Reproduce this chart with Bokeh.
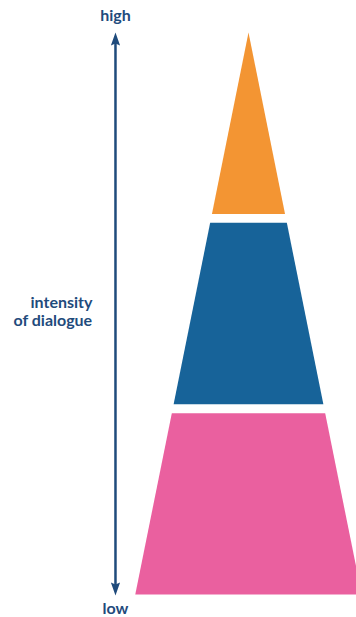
from bokeh.plotting import figure
from bokeh.models import Range1d
from bokeh.core.properties import value
from bokeh.embed import file_html
from bokeh.resources import INLINE

# ---- data (chart units: one tier = 1 unit of "intensity") ----
tier_names = ["low", "medium", "high"]
tier_start = [0.0, 1.0, 2.0]
tier_end = [0.953, 1.953, 2.953]
tier_colors = ["#EA609F", "#176399", "#F39533"]
apex = 2.953
base_halfwidth = 0.595

axis_x = -0.699
axis_low = -0.005
axis_high = 2.953
axis_labels = ["high", "low"]
axis_label_y = [3.048, -0.068]
side_lines = ["intensity", "of dialogue"]
side_y = [1.54, 1.445]
side_x = -0.82

NAVY = "#1f4b7c"
PX = 190.3  # pixels per chart unit

def hw(y):
    return base_halfwidth * (apex - y) / apex

xs, ys = [], []
for y0, y1 in zip(tier_start, tier_end):
    h0, h1 = hw(y0), hw(y1)
    if h1 < 1e-6:
        xs.append([-h0, h0, 0.0]); ys.append([y0, y0, y1])
    else:
        xs.append([-h0, h0, h1, -h1]); ys.append([y0, y0, y1, y1])

W, H = 356, 617
p = figure(width=W, height=H, output_backend="svg", toolbar_location=None,
           x_range=Range1d(-248 / PX, (W - 248) / PX),
           y_range=Range1d((594 - H) / PX, 594 / PX),
           min_border=0, outline_line_color=None)
p.axis.visible = False
p.grid.visible = False
p.background_fill_color = "white"
p.border_fill_color = "white"

p.patches(xs=xs, ys=ys, fill_color=tier_colors, line_color=None)

# axis arrow
p.segment(x0=[axis_x], y0=[axis_low + 10 / PX], x1=[axis_x], y1=[axis_high - 10 / PX],
          line_color=NAVY, line_width=2.5)
hl, hwid, notch = 13 / PX, 4.6 / PX, 2 / PX
head_xs = [[axis_x, axis_x + hwid, axis_x, axis_x - hwid],
           [axis_x, axis_x + hwid, axis_x, axis_x - hwid]]
head_ys = [[axis_high, axis_high - hl, axis_high - hl + notch, axis_high - hl],
           [axis_low, axis_low + hl, axis_low + hl - notch, axis_low + hl]]
p.patches(xs=head_xs, ys=head_ys, fill_color=NAVY, line_color=None)

p.text(x=[axis_x, axis_x], y=axis_label_y, text=axis_labels,
       text_font=value("Lato"), text_font_style="bold", text_font_size="16px",
       text_color=NAVY, text_align="center", text_baseline="middle")
p.text(x=[side_x, side_x], y=side_y, text=side_lines,
       text_font=value("Lato"), text_font_style="bold", text_font_size="16px",
       text_color=NAVY, text_align="right", text_baseline="middle")

open("out.html", "w").write(file_html(p, INLINE))
